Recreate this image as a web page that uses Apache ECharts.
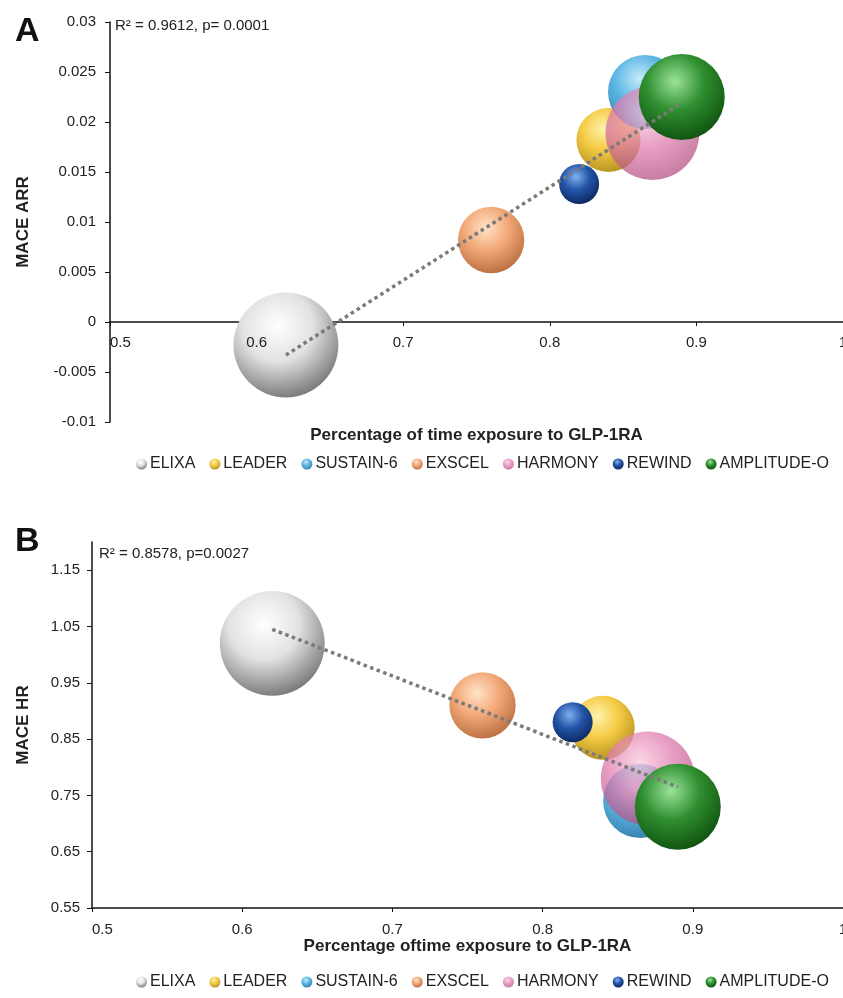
<!DOCTYPE html>
<html>
<head>
<meta charset="utf-8">
<script src="https://cdn.jsdelivr.net/npm/echarts@6/dist/echarts.min.js"></script>
<style>
  html, body { margin: 0; padding: 0; background: #fff; }
  #chart { width: 843px; height: 998px; }
</style>
</head>
<body>
<div id="chart"></div>
<script>
// study data
const studies = ['ELIXA', 'LEADER', 'SUSTAIN-6', 'EXSCEL', 'HARMONY', 'REWIND', 'AMPLITUDE-O'];
const exposure = [0.62, 0.84, 0.865, 0.76, 0.87, 0.82, 0.89];
const maceArr = [-0.0023, 0.0182, 0.023, 0.0082, 0.0189, 0.0138, 0.0225];
const maceHr = [1.02, 0.87, 0.74, 0.91, 0.78, 0.88, 0.73];
const bubbleWeight = [110, 41, 55, 44, 88, 16, 74];

// regression lines
const trendArr = [[0.62, -0.0033], [0.89, 0.0219]];
const trendHr = [[0.62, 1.045], [0.89, 0.765]];

const hrTicks = [0.55, 0.65, 0.75, 0.85, 0.95, 1.05, 1.15];

// sphere shading per study: highlight, base, shadow, opacity
const shades = [
  ['#ffffff', '#e2e2e2', '#6a6a6a', 1],
  ['#fff2a8', '#f4c83a', '#a88410', 0.95],
  ['#bfe8fa', '#4aaee0', '#1c6a9c', 0.9],
  ['#ffe2c4', '#f2a472', '#b0602c', 0.95],
  ['#fbc6dd', '#e07aae', '#a84476', 0.72],
  ['#7fb0f0', '#2356a8', '#0a2258', 1],
  ['#9be39b', '#2f8f2f', '#0c4a0c', 1],
];

const FONT = '"Liberation Sans", Arial, sans-serif';
const txt = '#222';

function sphere(i) {
  const s = shades[i];
  return {
    type: 'radial', x: 0.42, y: 0.32, r: 0.75,
    colorStops: [
      { offset: 0, color: s[0] },
      { offset: 0.45, color: s[1] },
      { offset: 1, color: s[2] },
    ],
  };
}

function bubbleSeries(idx, values) {
  return studies.map((name, i) => ({
    name,
    type: 'scatter',
    xAxisIndex: idx,
    yAxisIndex: idx,
    data: [[exposure[i], values[i], bubbleWeight[i]]],
    symbolSize: (v) => 10 * Math.sqrt(v[2]),
    itemStyle: { color: sphere(i), opacity: shades[i][3] },
    emphasis: { disabled: true },
    z: 2,
  }));
}

function trendSeries(idx, pts) {
  return {
    type: 'line',
    xAxisIndex: idx,
    yAxisIndex: idx,
    data: pts,
    symbol: 'none',
    lineStyle: { color: '#7a7a7a', width: 3.5, type: [3.5, 3.5] },
    z: 5,
    silent: true,
  };
}

const axisLine = { show: true, lineStyle: { color: '#111', width: 1.5 } };
const tickLabel = { color: txt, fontSize: 15, fontFamily: FONT };
const nameStyle = { color: txt, fontSize: 17, fontWeight: 'bold', fontFamily: FONT };

function legend(top) {
  return {
    top,
    left: 131,
    data: studies,
    icon: 'circle',
    itemWidth: 11,
    itemHeight: 11,
    itemGap: 14,
    textStyle: { color: txt, fontSize: 16, fontFamily: FONT, padding: [0, 0, 0, -2] },
  };
}

const chart = echarts.init(document.getElementById('chart'), undefined, { renderer: 'canvas' });

chart.setOption({
  animation: false,
  backgroundColor: '#fff',
  title: [
    { text: 'A', left: 10, top: 10, textStyle: { fontSize: 34, fontWeight: 'bold', color: '#111', fontFamily: FONT } },
    { text: 'B', left: 10, top: 520, textStyle: { fontSize: 34, fontWeight: 'bold', color: '#111', fontFamily: FONT } },
    { text: 'R² = 0.9612, p= 0.0001', left: 110, top: 13, textStyle: { fontSize: 15, fontWeight: 'normal', color: txt, fontFamily: FONT } },
    { text: 'R² = 0.8578, p=0.0027', left: 94, top: 541, textStyle: { fontSize: 15, fontWeight: 'normal', color: txt, fontFamily: FONT } },
  ],
  legend: [legend(451), legend(969)],
  grid: [
    // A: full plot area (data)
    { left: 110, right: 0, top: 22, height: 400, outerBoundsMode: 'none', containLabel: false },
    // B
    { left: 92, right: 0, top: 542, bottom: 90, outerBoundsMode: 'none', containLabel: false },
    // A: upper part only, its bottom edge sits on the zero line and carries the x labels
    { left: 110, right: 0, top: 22, height: 300, outerBoundsMode: 'none', containLabel: false },
  ],
  xAxis: [
    {
      gridIndex: 0, type: 'value', min: 0.5, max: 1, interval: 0.1,
      axisLine: { ...axisLine, onZero: true },
      axisTick: { show: true, length: 4, lineStyle: { color: '#111' } },
      axisLabel: { show: false },
      splitLine: { show: false },
    },
    {
      gridIndex: 1, type: 'value', min: 0.5, max: 1, interval: 0.1,
      axisLine,
      axisTick: { show: true, length: 4, lineStyle: { color: '#111' } },
      axisLabel: { ...tickLabel, margin: 14, alignMinLabel: 'left' },
      splitLine: { show: false },
      name: 'Percentage oftime exposure to GLP-1RA',
      nameLocation: 'middle', nameGap: 30, nameTextStyle: nameStyle,
    },
    {
      gridIndex: 2, type: 'value', min: 0.5, max: 1, interval: 0.1, z: 10,
      axisLine: { show: false },
      axisTick: { show: false },
      axisLabel: { ...tickLabel, margin: 13, alignMinLabel: 'left' },
      splitLine: { show: false },
      name: 'Percentage of time exposure to GLP-1RA',
      nameLocation: 'middle', nameGap: 105, nameTextStyle: nameStyle,
    },
  ],
  yAxis: [
    {
      gridIndex: 0, type: 'value', min: -0.01, max: 0.03, interval: 0.005,
      axisLine,
      axisTick: { show: true, length: 5, lineStyle: { color: '#111' } },
      axisLabel: { ...tickLabel, margin: 14 },
      splitLine: { show: false },
      name: 'MACE ARR',
      nameLocation: 'middle', nameGap: 78, nameTextStyle: nameStyle,
    },
    {
      gridIndex: 1, type: 'value', min: 0.55, max: 1.2,
      axisLine,
      axisTick: { show: true, length: 5, lineStyle: { color: '#111' }, customValues: hrTicks },
      axisLabel: { ...tickLabel, margin: 12, customValues: hrTicks },
      splitLine: { show: false },
      name: 'MACE HR',
      nameLocation: 'middle', nameGap: 60, nameTextStyle: nameStyle,
    },
    {
      gridIndex: 2, type: 'value', min: 0, max: 0.03, show: false,
    },
  ],
  series: [
    ...bubbleSeries(0, maceArr),
    trendSeries(0, trendArr),
    ...bubbleSeries(1, maceHr),
    trendSeries(1, trendHr),
  ],
});
</script>
</body>
</html>
